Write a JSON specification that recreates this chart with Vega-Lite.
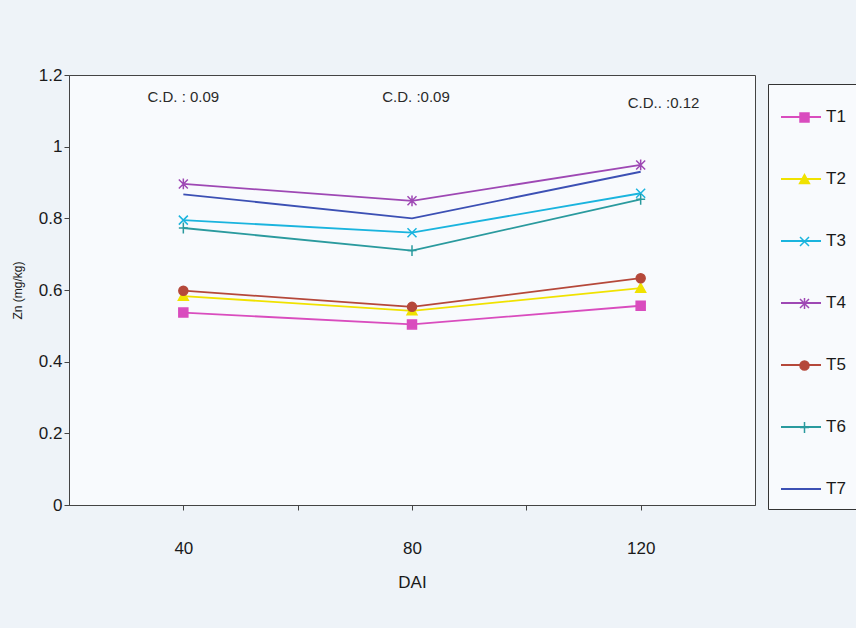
{
  "$schema": "https://vega.github.io/schema/vega-lite/v6.json",
  "width": 686,
  "height": 430,
  "autosize": "none",
  "padding": {"left": 69, "top": 75, "right": 101, "bottom": 123},
  "background": "#eef3f8",
  "config": {
    "font": "Liberation Sans",
    "view": {"stroke": "#444", "strokeWidth": 1, "fill": "#f8fafd"},
    "axis": {"grid": false, "domainColor": "#444", "tickColor": "#444", "labelColor": "#1a1a1a", "titleColor": "#1a1a1a", "labelFont": "Liberation Sans", "titleFont": "Liberation Sans"}
  },
  "datasets": {
    "zn": [
      {"series": "T1", "dai": 40, "zn": 0.537}, {"series": "T1", "dai": 80, "zn": 0.504}, {"series": "T1", "dai": 120, "zn": 0.556},
      {"series": "T2", "dai": 40, "zn": 0.583}, {"series": "T2", "dai": 80, "zn": 0.542}, {"series": "T2", "dai": 120, "zn": 0.605},
      {"series": "T3", "dai": 40, "zn": 0.795}, {"series": "T3", "dai": 80, "zn": 0.76}, {"series": "T3", "dai": 120, "zn": 0.87},
      {"series": "T4", "dai": 40, "zn": 0.896}, {"series": "T4", "dai": 80, "zn": 0.849}, {"series": "T4", "dai": 120, "zn": 0.949},
      {"series": "T5", "dai": 40, "zn": 0.598}, {"series": "T5", "dai": 80, "zn": 0.553}, {"series": "T5", "dai": 120, "zn": 0.633},
      {"series": "T6", "dai": 40, "zn": 0.773}, {"series": "T6", "dai": 80, "zn": 0.71}, {"series": "T6", "dai": 120, "zn": 0.853},
      {"series": "T7", "dai": 40, "zn": 0.867}, {"series": "T7", "dai": 80, "zn": 0.8}, {"series": "T7", "dai": 120, "zn": 0.93}
    ],
    "cd": [
      {"label": "C.D. : 0.09", "dai": 40, "zn": 1.14},
      {"label": "C.D. :0.09", "dai": 80.7, "zn": 1.14},
      {"label": "C.D.. :0.12", "dai": 124, "zn": 1.122}
    ]
  },
  "layer": [
    {
      "data": {"name": "zn"},
      "mark": {"type": "line", "strokeWidth": 1.8},
      "encoding": {
        "x": {"field": "dai", "type": "quantitative", "scale": {"domain": [20, 140], "nice": false, "zero": false},
          "axis": {"values": [40, 60, 80, 100, 120], "labelExpr": "datum.value % 40 == 0 ? datum.label : ''", "title": "DAI", "labelFontSize": 17, "titleFontSize": 17, "titleFontWeight": "normal", "tickSize": 5, "labelPadding": 30, "titlePadding": 18,
            "encode": {"ticks": {"update": {"opacity": {"signal": "datum.value % 40 == 0 ? 0 : 1"}}}}}},
        "y": {"field": "zn", "type": "quantitative", "scale": {"domain": [0, 1.2], "nice": false},
          "axis": {"values": [0, 0.2, 0.4, 0.6, 0.8, 1, 1.2], "format": "~g", "title": "Zn (mg/kg)", "labelFontSize": 17, "titleFontSize": 12, "titleFontWeight": "normal", "tickSize": 5, "labelPadding": 2, "titlePadding": 14}},
        "color": {"field": "series", "type": "nominal",
          "scale": {"domain": ["T1", "T2", "T3", "T4", "T5", "T6", "T7"], "range": ["#d94cbe", "#f0e200", "#1ab4de", "#9e48b4", "#b5483a", "#2a9a9e", "#3c50b4"]},
          "legend": {"title": null, "orient": "none", "legendX": 699, "legendY": 9, "padding": 12, "strokeColor": "#333", "fillColor": "#f8fafd", "labelFontSize": 17, "labelColor": "#1a1a1a", "labelFont": "Liberation Sans", "rowPadding": 33, "labelOffset": 4, "symbolType": "stroke", "symbolSize": 1600, "symbolStrokeWidth": 1.8}}
      }
    },
    {
      "data": {"name": "zn"},
      "mark": {"type": "point", "filled": true, "size": 81, "strokeWidth": 1.5, "opacity": 1},
      "encoding": {
        "x": {"field": "dai", "type": "quantitative"},
        "y": {"field": "zn", "type": "quantitative"},
        "fill": {"field": "series", "type": "nominal",
          "scale": {"range": ["#d94cbe", "#f0e200", "#1ab4de", "#9e48b4", "#b5483a", "#2a9a9e", "#3c50b4"]},
          "legend": {"title": null, "orient": "none", "legendX": 727, "legendY": 34, "padding": 0, "labelFontSize": 17, "labelExpr": "' '", "rowPadding": 44, "symbolSize": 81, "symbolStrokeWidth": 1.5, "symbolOpacity": 1}},
        "stroke": {"field": "series", "type": "nominal",
          "scale": {"range": ["#d94cbe", "#f0e200", "#1ab4de", "#9e48b4", "#b5483a", "#2a9a9e", "#3c50b4"]},
          "legend": {"title": null, "orient": "none", "legendX": 727, "legendY": 34, "padding": 0, "labelFontSize": 17, "labelExpr": "' '", "rowPadding": 44, "symbolSize": 81, "symbolStrokeWidth": 1.5, "symbolOpacity": 1}},
        "shape": {"field": "series", "type": "nominal",
          "scale": {"range": [
            "M-1,-1H1V1H-1Z",
            "M0,-1.1L1.1,0.9H-1.1Z",
            "M-1,-1L1,1M-1,1L1,-1",
            "M-1,-1L1,1M-1,1L1,-1M0,-1.2L0,1.2",
            "M1,0A1,1,0,1,1,-1,0A1,1,0,1,1,1,0Z",
            "M-1,0L1,0M0,-1.2L0,1.2",
            "M0,0"
          ]},
          "legend": {"title": null, "orient": "none", "legendX": 727, "legendY": 34, "padding": 0, "labelFontSize": 17, "labelExpr": "' '", "rowPadding": 44, "symbolSize": 81, "symbolStrokeWidth": 1.5, "symbolOpacity": 1}}
      }
    },
    {
      "data": {"name": "cd"},
      "mark": {"type": "text", "fontSize": 15, "color": "#2a2a2a", "align": "center", "baseline": "middle"},
      "encoding": {
        "x": {"field": "dai", "type": "quantitative"},
        "y": {"field": "zn", "type": "quantitative"},
        "text": {"field": "label"}
      }
    }
  ]
}
